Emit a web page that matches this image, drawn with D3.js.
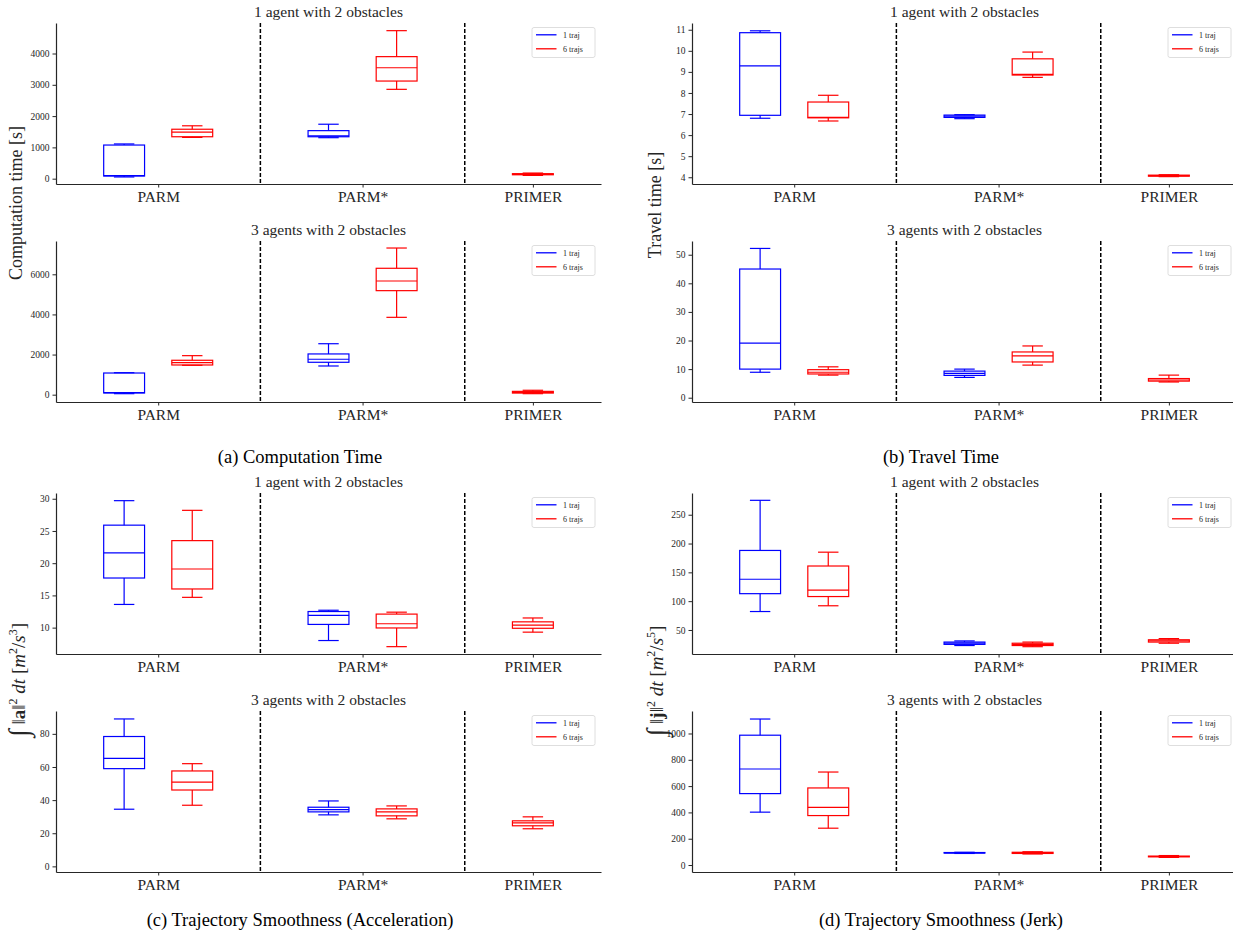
<!DOCTYPE html>
<html>
<head>
<meta charset="utf-8">
<script src="https://cdnjs.cloudflare.com/ajax/libs/d3/7.8.5/d3.min.js"></script>
<style>
  body { margin: 0; background: #fff; }
  svg { display: block; }
  .tick text { font-family: "Liberation Serif", serif; fill: #262626; }
  .tick line, .domain { stroke: #262626; }
</style>
</head>
<body>
<div id="chart"></div>
<script>
var svgWidth = 1233;
var svgHeight = 944;

// categories on the x axis and where they sit (in box units)
var groups = ["PARM", "PARM*", "PRIMER"];
var groupPos = [1.5, 4.5, 7];
var dividers = [3, 6];
var seriesNames = ["1 traj", "6 trajs"];
var seriesColors = ["#0000ff", "#ff0000"];

// box stats: [group, series, min, q1, median, q3, max]
var compOne = [
  ["PARM", "1 traj", 55, 85, 100, 1075, 1110],
  ["PARM", "6 trajs", 1320, 1340, 1490, 1580, 1690],
  ["PARM*", "1 traj", 1310, 1340, 1370, 1535, 1740],
  ["PARM*", "6 trajs", 2855, 3120, 3545, 3900, 4730],
  ["PRIMER", "6 trajs", 105, 125, 140, 160, 180]
];
var compThree = [
  ["PARM", "1 traj", 50, 85, 100, 1080, 1095],
  ["PARM", "6 trajs", 1465, 1480, 1595, 1715, 1945],
  ["PARM*", "1 traj", 1430, 1615, 1765, 2030, 2540],
  ["PARM*", "6 trajs", 3855, 5185, 5665, 6300, 7310],
  ["PRIMER", "6 trajs", 50, 80, 115, 165, 220]
];
var travelOne = [
  ["PARM", "1 traj", 6.80, 6.94, 9.29, 10.86, 10.95],
  ["PARM", "6 trajs", 6.67, 6.82, 6.84, 7.57, 7.89],
  ["PARM*", "1 traj", 6.78, 6.84, 6.90, 6.95, 6.97],
  ["PARM*", "6 trajs", 8.74, 8.85, 8.88, 9.62, 9.94],
  ["PRIMER", "6 trajs", 4.03, 4.05, 4.08, 4.10, 4.12]
];
var travelThree = [
  ["PARM", "1 traj", 8.9, 10.0, 19.1, 45.0, 52.2],
  ["PARM", "6 trajs", 7.9, 8.3, 8.9, 9.8, 10.8],
  ["PARM*", "1 traj", 7.1, 7.8, 8.5, 9.3, 10.0],
  ["PARM*", "6 trajs", 11.4, 12.5, 14.6, 16.0, 18.1],
  ["PRIMER", "6 trajs", 5.5, 5.8, 6.2, 6.7, 7.9]
];
var accOne = [
  ["PARM", "1 traj", 13.6, 17.7, 21.6, 25.9, 29.7],
  ["PARM", "6 trajs", 14.7, 16.0, 19.1, 23.5, 28.2],
  ["PARM*", "1 traj", 8.0, 10.5, 11.9, 12.5, 12.7],
  ["PARM*", "6 trajs", 7.05, 9.95, 10.6, 12.1, 12.4],
  ["PRIMER", "6 trajs", 9.3, 9.9, 10.4, 10.9, 11.5]
];
var accThree = [
  ["PARM", "1 traj", 34.5, 59.0, 65.2, 78.4, 89.0],
  ["PARM", "6 trajs", 36.9, 46.1, 50.9, 57.6, 62.0],
  ["PARM*", "1 traj", 31.1, 32.9, 34.3, 35.7, 39.5],
  ["PARM*", "6 trajs", 28.7, 30.5, 32.9, 34.7, 36.5],
  ["PRIMER", "6 trajs", 22.7, 24.5, 26.3, 27.5, 29.9]
];
var jerkOne = [
  ["PARM", "1 traj", 82, 113, 138, 188, 275],
  ["PARM", "6 trajs", 92, 108, 119, 161, 185],
  ["PARM*", "1 traj", 23, 25, 27, 29, 31],
  ["PARM*", "6 trajs", 21, 23, 25, 27, 29],
  ["PRIMER", "6 trajs", 27, 29, 31, 33, 35]
];
var jerkThree = [
  ["PARM", "1 traj", 402, 543, 730, 987, 1110],
  ["PARM", "6 trajs", 280, 376, 439, 586, 707],
  ["PARM*", "1 traj", 88, 91, 93, 95, 97],
  ["PARM*", "6 trajs", 84, 88, 93, 97, 101],
  ["PRIMER", "6 trajs", 58, 62, 65, 68, 72]
];

// y limits and ticks per panel
var compOneLim = [-170, 4975], compOneTicks = [0, 1000, 2000, 3000, 4000];
var compThreeLim = [-365, 7660], compThreeTicks = [0, 2000, 4000, 6000];
var travelOneLim = [3.68, 11.32], travelOneTicks = [4, 5, 6, 7, 8, 9, 10, 11];
var travelThreeLim = [-1.5, 54.8], travelThreeTicks = [0, 10, 20, 30, 40, 50];
var accOneLim = [5.91, 30.89], accOneTicks = [10, 15, 20, 25, 30];
var accThreeLim = [-3.4, 93.8], accThreeTicks = [0, 20, 40, 60, 80];
var jerkOneLim = [8.3, 287.7], jerkOneTicks = [50, 100, 150, 200, 250];
var jerkThreeLim = [-53, 1171], jerkThreeTicks = [0, 200, 400, 600, 800, 1000];

var titleOne = "1 agent with 2 obstacles";
var titleThree = "3 agents with 2 obstacles";

// layout of the 8 axes
var colX = [[56, 601], [692, 1237]];
var rowY = [[23, 184], [241, 402], [493, 654], [711, 872]];

var panels = [
  { col: 0, row: 0, title: titleOne, data: compOne, lim: compOneLim, ticks: compOneTicks },
  { col: 0, row: 1, title: titleThree, data: compThree, lim: compThreeLim, ticks: compThreeTicks },
  { col: 1, row: 0, title: titleOne, data: travelOne, lim: travelOneLim, ticks: travelOneTicks },
  { col: 1, row: 1, title: titleThree, data: travelThree, lim: travelThreeLim, ticks: travelThreeTicks },
  { col: 0, row: 2, title: titleOne, data: accOne, lim: accOneLim, ticks: accOneTicks },
  { col: 0, row: 3, title: titleThree, data: accThree, lim: accThreeLim, ticks: accThreeTicks },
  { col: 1, row: 2, title: titleOne, data: jerkOne, lim: jerkOneLim, ticks: jerkOneTicks },
  { col: 1, row: 3, title: titleThree, data: jerkThree, lim: jerkThreeLim, ticks: jerkThreeTicks }
];

var serif = "'Liberation Serif', 'Times New Roman', serif";
var boxWidth = 0.6;

var svg = d3.select("#chart")
  .append("svg")
  .attr("width", svgWidth)
  .attr("height", svgHeight);

panels.forEach(function(p) {
  var x0 = colX[p.col][0], x1 = colX[p.col][1];
  var y0 = rowY[p.row][0], y1 = rowY[p.row][1];

  var x = d3.scaleLinear().domain([0, 8]).range([x0, x1]);
  var y = d3.scaleLinear().domain(p.lim).range([y1, y0]);

  var g = svg.append("g");

  // dashed separators
  g.selectAll(".sep")
    .data(dividers)
    .enter()
    .append("line")
    .attr("x1", function(d) { return x(d); })
    .attr("x2", function(d) { return x(d); })
    .attr("y1", y0)
    .attr("y2", y1)
    .attr("stroke", "#000")
    .attr("stroke-width", 1.5)
    .attr("stroke-dasharray", "4,2");

  // where each box goes: two series side by side, a lone box on the tick
  function boxPos(d) {
    var gi = groups.indexOf(d[0]);
    var count = p.data.filter(function(e) { return e[0] === d[0]; }).length;
    if (count === 1) return groupPos[gi];
    return groupPos[gi] + (seriesNames.indexOf(d[1]) === 0 ? -0.5 : 0.5);
  }

  var boxes = g.selectAll(".box")
    .data(p.data)
    .enter()
    .append("g")
    .attr("stroke", function(d) { return seriesColors[seriesNames.indexOf(d[1])]; })
    .attr("stroke-width", 1.2)
    .attr("fill", "none");

  // whiskers
  boxes.append("line")
    .attr("x1", function(d) { return x(boxPos(d)); })
    .attr("x2", function(d) { return x(boxPos(d)); })
    .attr("y1", function(d) { return y(d[2]); })
    .attr("y2", function(d) { return y(d[3]); });
  boxes.append("line")
    .attr("x1", function(d) { return x(boxPos(d)); })
    .attr("x2", function(d) { return x(boxPos(d)); })
    .attr("y1", function(d) { return y(d[5]); })
    .attr("y2", function(d) { return y(d[6]); });
  // caps
  [2, 6].forEach(function(k) {
    boxes.append("line")
      .attr("x1", function(d) { return x(boxPos(d) - boxWidth / 4); })
      .attr("x2", function(d) { return x(boxPos(d) + boxWidth / 4); })
      .attr("y1", function(d) { return y(d[k]); })
      .attr("y2", function(d) { return y(d[k]); });
  });
  // box
  boxes.append("rect")
    .attr("x", function(d) { return x(boxPos(d) - boxWidth / 2); })
    .attr("width", x(boxWidth) - x(0))
    .attr("y", function(d) { return y(d[5]); })
    .attr("height", function(d) { return Math.max(0.5, y(d[3]) - y(d[5])); });
  // median
  boxes.append("line")
    .attr("x1", function(d) { return x(boxPos(d) - boxWidth / 2); })
    .attr("x2", function(d) { return x(boxPos(d) + boxWidth / 2); })
    .attr("y1", function(d) { return y(d[4]); })
    .attr("y2", function(d) { return y(d[4]); });

  // axes
  var leftAxis = d3.axisLeft(y)
    .tickValues(p.ticks)
    .tickFormat(function(d) { return String(d); })
    .tickSize(3.5)
    .tickSizeOuter(0)
    .tickPadding(3);
  var yAxis = g.append("g")
    .attr("transform", "translate(" + x0 + ",0)")
    .call(leftAxis);
  yAxis.selectAll("text").attr("font-size", 9.5);
  yAxis.select(".domain").attr("stroke-width", 1.2);

  var bottomAxis = d3.axisBottom(x)
    .tickValues(groupPos)
    .tickFormat(function(d, i) { return groups[i]; })
    .tickSize(3.5)
    .tickSizeOuter(0)
    .tickPadding(3);
  var xAxis = g.append("g")
    .attr("transform", "translate(0," + y1 + ")")
    .call(bottomAxis);
  xAxis.selectAll("text").attr("font-size", 15.5);
  xAxis.select(".domain").attr("stroke-width", 1.2);

  // title
  g.append("text")
    .attr("x", (x0 + x1) / 2)
    .attr("y", y0 - 6)
    .attr("text-anchor", "middle")
    .attr("font-family", serif)
    .attr("font-size", 15.5)
    .attr("fill", "#262626")
    .text(p.title);

  // legend
  var lg = g.append("g").attr("transform", "translate(" + (x1 - 69) + "," + (y0 + 4.5) + ")");
  lg.append("rect")
    .attr("width", 63)
    .attr("height", 30)
    .attr("rx", 2)
    .attr("fill", "#fff")
    .attr("fill-opacity", 0.8)
    .attr("stroke", "#d6d6d6")
    .attr("stroke-width", 0.8);
  seriesNames.forEach(function(name, i) {
    lg.append("line")
      .attr("x1", 4)
      .attr("x2", 24.5)
      .attr("y1", 7.3 + i * 14)
      .attr("y2", 7.3 + i * 14)
      .attr("stroke", seriesColors[i])
      .attr("stroke-width", 1.3);
    lg.append("text")
      .attr("x", 31)
      .attr("y", 7.3 + i * 14)
      .attr("dy", "0.35em")
      .attr("font-family", serif)
      .attr("font-size", 8)
      .attr("fill", "#262626")
      .text(name);
  });
});

// y labels shared by each pair of panels
function yLabel(cx, cy, size, build) {
  var t = svg.append("text")
    .attr("transform", "translate(" + cx + "," + cy + ") rotate(-90)")
    .attr("text-anchor", "middle")
    .attr("font-family", serif)
    .attr("font-size", size)
    .attr("fill", "#262626");
  build(t);
}

yLabel(22, 203, 18, function(t) { t.text("Computation time [s]"); });
yLabel(661, 205, 18, function(t) { t.text("Travel time [s]"); });

function smoothLabel(t, letter, power) {
  t.append("tspan").attr("font-size", 28).attr("dy", 3).text("\u222B");
  t.append("tspan").attr("dy", -3).text(" \u2016");
  t.append("tspan").attr("font-weight", "bold").text(letter);
  t.append("tspan").text("\u2016");
  t.append("tspan").attr("font-size", 12).attr("dy", -8).text("2");
  t.append("tspan").attr("dy", 8).attr("font-style", "italic").text(" dt ");
  t.append("tspan").text("[");
  t.append("tspan").attr("font-style", "italic").text("m");
  t.append("tspan").attr("font-size", 12).attr("dy", -8).text("2");
  t.append("tspan").attr("dy", 8).text("/");
  t.append("tspan").attr("font-style", "italic").text("s");
  t.append("tspan").attr("font-size", 12).attr("dy", -8).text(power);
  t.append("tspan").attr("dy", 8).text("]");
}

yLabel(25, 680, 19, function(t) { smoothLabel(t, "a", "3"); });
yLabel(663, 681, 19, function(t) { smoothLabel(t, "j", "5"); });

// sub-figure captions
var captions = [
  ["(a) Computation Time", 300, 463],
  ["(b) Travel Time", 941, 463],
  ["(c) Trajectory Smoothness (Acceleration)", 300, 926],
  ["(d) Trajectory Smoothness (Jerk)", 941, 926]
];
svg.selectAll(".caption")
  .data(captions)
  .enter()
  .append("text")
  .attr("x", function(d) { return d[1]; })
  .attr("y", function(d) { return d[2]; })
  .attr("text-anchor", "middle")
  .attr("font-family", serif)
  .attr("font-size", 18.5)
  .attr("fill", "#000")
  .text(function(d) { return d[0]; });
</script>
</body>
</html>
